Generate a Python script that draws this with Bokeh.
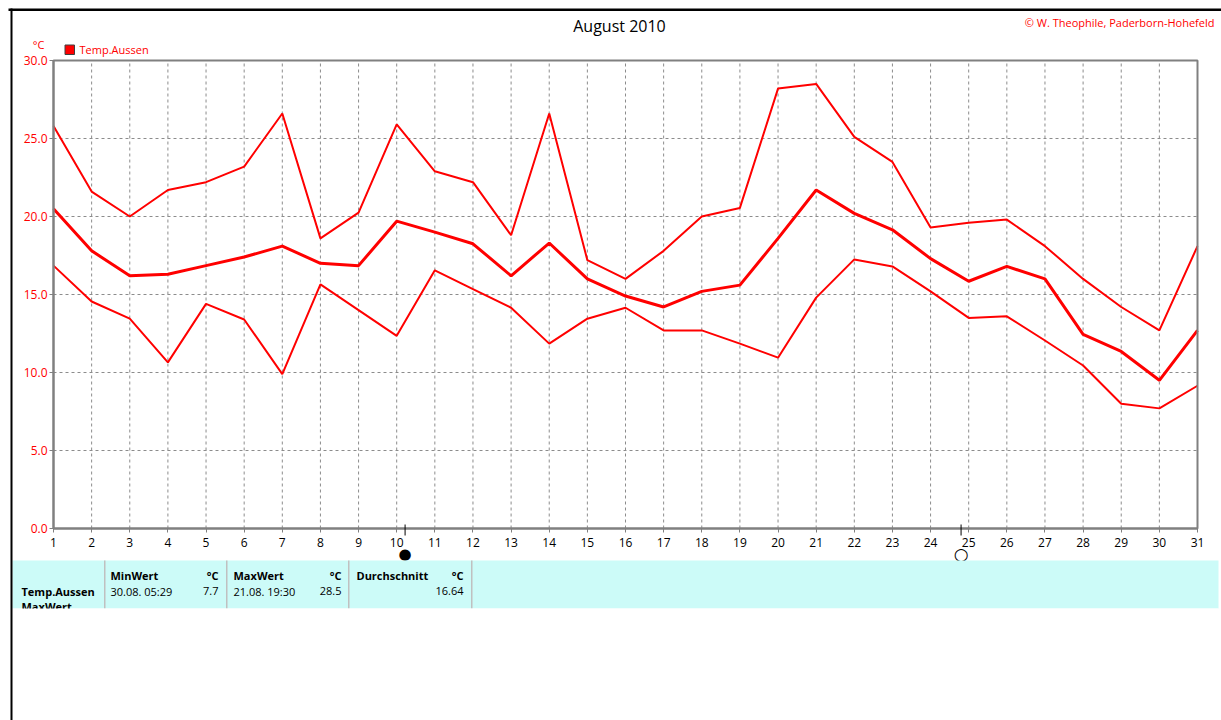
from bokeh.plotting import figure
from bokeh.embed import file_html
from bokeh.resources import INLINE
from bokeh.models import (BoxAnnotation, FixedTicker, Label, PolyAnnotation,
                          PrintfTickFormatter, Range1d)

days = list(range(1, 32))
temp_max = [25.8, 21.6, 20.0, 21.7, 22.2, 23.2, 26.6, 18.6, 20.25, 25.9, 22.9, 22.2, 18.8, 26.6, 17.2, 16.0,
            17.8, 20.0, 20.55, 28.2, 28.5, 25.1, 23.5, 19.3, 19.6, 19.8, 18.1, 16.0, 14.2, 12.7, 18.1]
temp_mean = [20.5, 17.8, 16.2, 16.3, 16.85, 17.4, 18.1, 17.0, 16.85, 19.7, 19.0, 18.25, 16.2, 18.3, 16.0, 14.9,
             14.2, 15.2, 15.6, 18.6, 21.7, 20.2, 19.15, 17.3, 15.85, 16.8, 16.0, 12.45, 11.35, 9.5, 12.7]
temp_min = [16.85, 14.55, 13.45, 10.65, 14.4, 13.4, 9.9, 15.65, 14.0, 12.35, 16.55, 15.35, 14.15, 11.85, 13.45, 14.15,
            12.7, 12.7, 11.85, 10.95, 14.8, 17.25, 16.8, 15.2, 13.5, 13.6, 12.05, 10.45, 8.0, 7.7, 9.15]
y_ticks = [0, 5, 10, 15, 20, 25, 30]
new_moon_day = 10.22
full_moon_day = 24.8

FONT = "Open Sans"
RED = "#ff0000"
GRAY = "#808080"
W, H = 1221, 720
LEFT, TOP, RIGHT, BOTTOM = 53, 60, 1197, 528
X0, X1, Y0, Y1 = 1, 31, 0, 30

# the plotting frame fills the canvas; the ranges place the chart area at LEFT..RIGHT, TOP..BOTTOM
ppx = (RIGHT - LEFT) / (X1 - X0)
ppy = (BOTTOM - TOP) / (Y1 - Y0)
p = figure(width=W, height=H, output_backend="svg", toolbar_location=None,
           x_range=Range1d(X0 - LEFT / ppx, X1 + (W - RIGHT) / ppx),
           y_range=Range1d(Y0 - (H - BOTTOM) / ppy, Y1 + TOP / ppy),
           min_border=0, background_fill_color="white", border_fill_color="white")
p.outline_line_color = None
p.xgrid.visible = False
p.ygrid.visible = False

# grid
GRID = dict(line_color="#8c8c8c", line_dash="3 3", line_width=1, level="underlay")
p.segment(x0=days[1:-1], y0=[Y0] * 29, x1=days[1:-1], y1=[Y1] * 29, **GRID)
p.segment(x0=[X0] * 5, y0=y_ticks[1:-1], x1=[X1] * 5, y1=y_ticks[1:-1], **GRID)

p.line(days, temp_max, line_color=RED, line_width=2)
p.line(days, temp_min, line_color=RED, line_width=2)
p.line(days, temp_mean, line_color=RED, line_width=3)

# chart border
p.quad(left=[X0], right=[X1], bottom=[Y0], top=[Y1], fill_alpha=0, line_color=GRAY, line_width=2)

# axes
p.xaxis.ticker = FixedTicker(ticks=days)
p.yaxis.ticker = FixedTicker(ticks=y_ticks)
p.yaxis.formatter = PrintfTickFormatter(format="%.1f")
p.xaxis.fixed_location = Y0
p.yaxis.fixed_location = X0
p.xaxis.bounds = (X0, X1)
p.yaxis.bounds = (Y0, Y1)
for ax, col in ((p.xaxis, "black"), (p.yaxis, RED)):
    ax.axis_line_color = GRAY
    ax.axis_line_width = 2
    ax.major_tick_line_color = GRAY
    ax.major_tick_in = 0
    ax.major_tick_out = 4
    ax.minor_tick_line_color = None
    ax.major_label_text_color = col
    ax.major_label_text_font = FONT
    ax.major_label_text_font_size = "12px"
p.xaxis.major_label_standoff = 5
p.yaxis.major_label_standoff = 2


def box(x0, x1, y0, y1, fill, line=None):
    p.add_layout(BoxAnnotation(left=x0, right=x1, top=H - y0, bottom=H - y1,
                               left_units="screen", right_units="screen",
                               top_units="screen", bottom_units="screen",
                               fill_color=fill, fill_alpha=1, line_color=line, line_alpha=1 if line else 0))


def text(x, y, s, color="black", size=11, bold=False, align="left"):
    p.add_layout(Label(x=x, y=H - y, x_units="screen", y_units="screen", text=s,
                       text_color=color, text_font=FONT, text_font_size=f"{size}px",
                       text_font_style="bold" if bold else "normal",
                       text_align=align, text_baseline="middle"))


# title and header texts
text(619, 25, "August 2010", size=16, align="center")
text(1214, 22, "© W. Theophile, Paderborn-Hohefeld", color=RED, size=11, align="right")
text(38, 44, "°C", color=RED, size=11, align="center")
box(64.5, 74, 44.5, 54, RED, "#404040")
text(79, 48.5, "Temp.Aussen", color=RED, size=11)

# moon phases
for day, glyph, gy, gs in ((new_moon_day, "●", 553, 15), (full_moon_day, "○", 553, 17)):
    p.add_layout(PolyAnnotation(xs=[day, day], ys=[H - 524, H - 535], xs_units="data", ys_units="screen",
                                line_color="black", line_alpha=1, line_width=1, fill_alpha=0))
    p.add_layout(Label(x=day, y=H - gy, x_units="data", y_units="screen", text=glyph,
                       text_color="black", text_font="DejaVu Sans", text_font_size=f"{gs}px",
                       text_align="center", text_baseline="middle"))

# statistics band
box(12, 1218, 560, 608, "#ccfbf8")
for x in (103.5, 225.5, 347.5, 470.5):
    box(x, x + 1.5, 560, 608, "#c0c0c0")
text(21, 606, "MaxWert", bold=True)
box(12, 1218, 608, 625, "white")
text(21, 590.5, "Temp.Aussen", bold=True)
text(110, 574.5, "MinWert", bold=True)
text(218, 574.5, "°C", bold=True, align="right")
text(110, 590.5, "30.08.  05:29")
text(218, 590.5, "7.7", align="right")
text(233, 574.5, "MaxWert", bold=True)
text(341, 574.5, "°C", bold=True, align="right")
text(233, 590.5, "21.08.  19:30")
text(341, 590.5, "28.5", align="right")
text(356, 574.5, "Durchschnitt", bold=True)
text(463, 574.5, "°C", bold=True, align="right")
text(463, 590.5, "16.64", align="right")

# window frame
box(8, 1221, 8, 10.5, "black")
box(10, 12, 8, 720, "black")

open("out.html", "w").write(file_html(p, INLINE))
